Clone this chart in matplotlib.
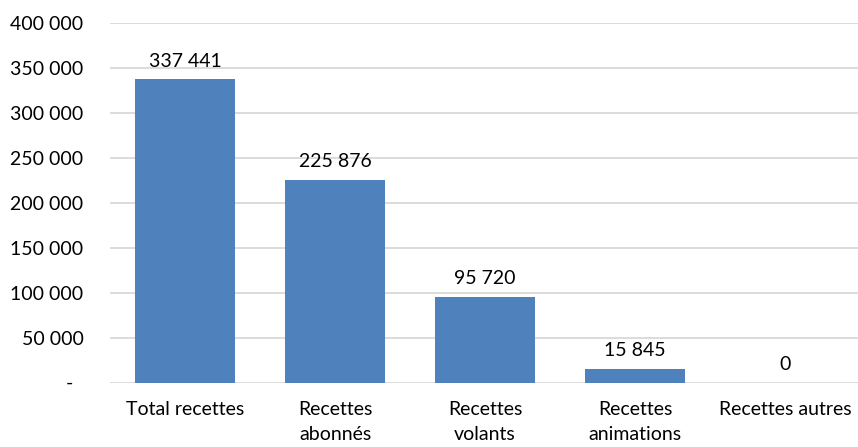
import matplotlib
matplotlib.use("Agg")
import matplotlib.pyplot as plt
from matplotlib.ticker import FuncFormatter

categories = ["Total recettes", "Recettes\nabonnés", "Recettes\nvolants", "Recettes\nanimations", "Recettes autres"]
values = [337441, 225876, 95720, 15845, 0]
yticks = [0, 50000, 100000, 150000, 200000, 250000, 300000, 350000, 400000]

plt.rcParams['font.family'] = ['Lato', 'DejaVu Sans']

def fmt(v):
    return f"{int(round(v)):,}".replace(",", " ")

FS = 14
fig = plt.figure(figsize=(8.58, 4.47), dpi=100)
ax = fig.add_axes([110/858, 1-383/447, 750/858, 360/447])
x = list(range(len(categories)))
bars = ax.bar(x, values, width=0.667, color="#4F81BD", zorder=3)
ax.set_xlim(-0.5, len(categories) - 0.5)
ax.set_ylim(0, 400000)
ax.set_yticks(yticks)
ax.yaxis.set_major_formatter(FuncFormatter(lambda v, p: "" if v == 0 else fmt(v)))
ax.text(-37/750, 0, "-", transform=ax.get_yaxis_transform(), ha="right", va="center", fontsize=FS, color="#000000")
ax.grid(axis="y", color="#D9D9D9", linewidth=1.3, zorder=0)
for s in ax.spines.values():
    s.set_visible(False)
ax.tick_params(axis="both", length=0, labelsize=FS, colors="#000000")
ax.tick_params(axis="y", pad=19)
ax.tick_params(axis="x", pad=13)
ax.set_xticks(x)
ax.set_xticklabels(categories, linespacing=1.6)
ax.bar_label(bars, labels=[fmt(v) for v in values], padding=7, fontsize=FS)
fig.savefig("out.png", dpi=100)
